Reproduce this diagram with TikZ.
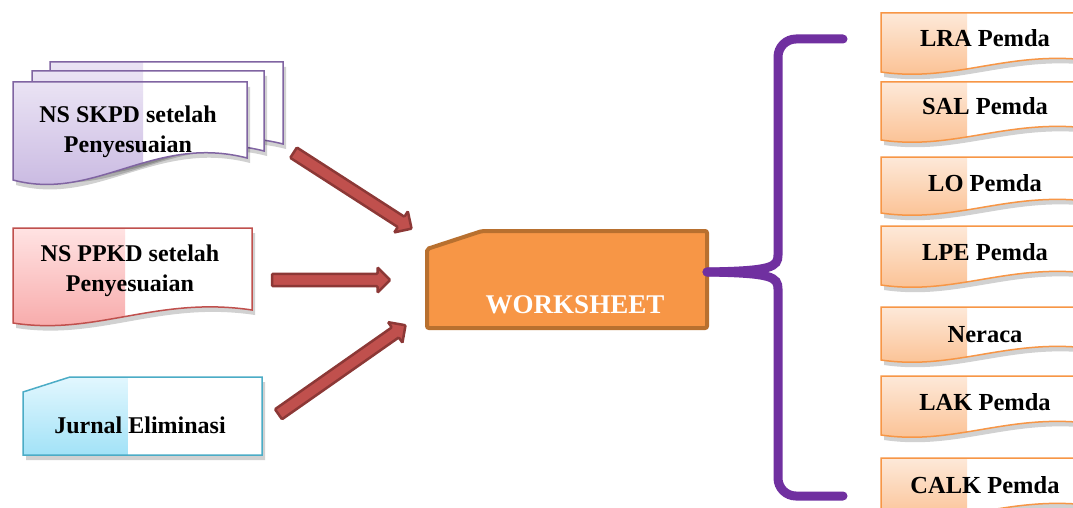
\documentclass[tikz,border=0pt]{standalone}
\usepackage{fontspec}
\setmainfont{Liberation Serif}
\usetikzlibrary{calc, shapes.arrows}

\definecolor{skpdline}{HTML}{8064A2}
\definecolor{skpdtop}{HTML}{EAE3F4}
\definecolor{skpdbot}{HTML}{C5B4DF}
\definecolor{ppkdline}{HTML}{C0504D}
\definecolor{ppkdtop}{HTML}{FFE3E3}
\definecolor{ppkdbot}{HTML}{F7A6A6}
\definecolor{jurnalline}{HTML}{4BACC6}
\definecolor{jurnaltop}{HTML}{E2F7FE}
\definecolor{jurnalbot}{HTML}{A2E2F7}
\definecolor{outline}{HTML}{F79646}
\definecolor{outtop}{HTML}{FDE9D9}
\definecolor{outbot}{HTML}{FBBD8C}
\definecolor{wsfill}{HTML}{F79646}
\definecolor{wsline}{HTML}{B8702F}
\definecolor{arrowfill}{HTML}{C0504D}
\definecolor{arrowline}{HTML}{8C3836}
\definecolor{bracecol}{HTML}{7030A0}

% wave document: x1, top, x2, bottom-left, rise, split, top colour, bottom colour, line colour
\newcommand{\docpath}[5]{(#1,#2) -- (#3,#2) -- (#3,{#4-#5})
    .. controls ({#1+0.6*(#3-#1)},{#4-2.1*#5}) and ({#1+0.35*(#3-#1)},{#4+1.0*#5}) .. (#1,#4) -- cycle}
\newcommand{\wavedoc}[9]{%
    \fill[black, opacity=0.18, shift={(3,5)}] \docpath{#1}{#2}{#3}{#4}{#5};
    \fill[white] \docpath{#1}{#2}{#3}{#4}{#5};
    \begin{scope}
        \clip ({#1-5},{#2-5}) rectangle (#6,{#4+40});
        \shade[top color=#7, bottom color=#8] \docpath{#1}{#2}{#3}{#4}{#5};
    \end{scope}
    \draw[line width=1.5, #9] \docpath{#1}{#2}{#3}{#4}{#5};
}

\begin{document}
\begin{tikzpicture}[
    x=1pt, y=-1pt,
    % Styles
    intext/.style={ % text of the input documents
        align=center,
        font=\fontsize{24}{30}\selectfont\bfseries
    },
    outtext/.style={ % text of the output documents
        anchor=base,
        font=\fontsize{24.5}{28}\selectfont\bfseries
    },
    redarrow/.style={ % block arrows into the worksheet
        single arrow,
        draw=arrowline,
        fill=arrowfill,
        line width=2.5,
        minimum width=25,
        single arrow head extend=6,
        single arrow head indent=0,
        inner sep=4.5,
        rounded corners=1
    },
    brace/.style={
        draw=bracecol,
        line width=9,
        line cap=round
    }
]
    \clip (0,0) rectangle (1073,508);
    \fill[white] (0,0) rectangle (1073,508);

    % Input documents
    \wavedoc{50}{62}{283}{166}{22}{143}{skpdtop}{skpdbot}{skpdline}
    \wavedoc{32}{71}{264}{173}{22}{143}{skpdtop}{skpdbot}{skpdline}
    \wavedoc{13}{82}{247}{180}{22}{143}{skpdtop}{skpdbot}{skpdline}
    \node[intext] (skpd) at (128,132) {NS SKPD setelah\\Penyesuaian};

    \wavedoc{13}{228}{252}{323}{13}{125}{ppkdtop}{ppkdbot}{ppkdline}
    \node[intext] (ppkd) at (130,271) {NS PPKD setelah\\Penyesuaian};

    \fill[black, opacity=0.18, shift={(3,5)}] (23,392) -- (70,377) -- (262,377) -- (262,455) -- (23,455) -- cycle;
    \fill[white] (23,392) -- (70,377) -- (262,377) -- (262,455) -- (23,455) -- cycle;
    \shade[top color=jurnaltop, bottom color=jurnalbot] (23,392) -- (70,377) -- (128,377) -- (128,455) -- (23,455) -- cycle;
    \draw[line width=1.5, jurnalline] (23,392) -- (70,377) -- (262,377) -- (262,455) -- (23,455) -- cycle;
    \node[intext, anchor=base] (jurnal) at (140,433) {Jurnal Eliminasi};

    % Worksheet
    \draw[line width=4, draw=wsline, fill=wsfill, rounded corners=2]
        (427,249) -- (482,231) -- (707,231) -- (707,328) -- (427,328) -- cycle;
    \node[anchor=base, text=white, font=\fontsize{27}{30}\selectfont\bfseries] (ws) at (575,313) {WORKSHEET};
    \coordinate (wsR) at (707,272);

    % Arrows into the worksheet
    \coordinate (a1) at (291,151);
    \coordinate (b1) at (409,227);
    \coordinate (a2) at (269,280);
    \coordinate (b2) at (387,280);
    \coordinate (a3) at (276,416);
    \coordinate (b3) at (403,327);
    \foreach \i in {1,2,3} {
        \path let \p1=($(b\i)-(a\i)$), \n1={atan2(\y1,\x1)}, \n2={veclen(\x1,\y1)} in
            node[redarrow, rotate=\n1, minimum height=\n2] (arr\i) at ($(a\i)!0.5!(b\i)$) {};
    }

    % Brace
    \draw[brace] (843,39) -- (796,39) to[out=180, in=90] (778,57) -- (778,255)
        .. controls (778,267) and (772,271) .. (wsR);
    \draw[brace] (843,496) -- (796,496) to[out=180, in=-90] (778,478) -- (778,289)
        .. controls (778,277) and (772,273) .. (wsR);

    % Output documents
    \foreach \t/\b/\base/\txt/\nm in {13/72/47/LRA Pemda/lra, 82/140/115/SAL Pemda/sal,
            157/213/191/LO Pemda/lo, 226/285/260/LPE Pemda/lpe, 307/360/342/Neraca/neraca,
            376/435/410/LAK Pemda/lak, 458/517/493/CALK Pemda/calk} {
        \wavedoc{881}{\t}{1095}{\b}{11}{967}{outtop}{outbot}{outline}
        \node[outtext] (\nm) at (985,\base) {\txt};
    }
\end{tikzpicture}
\end{document}
